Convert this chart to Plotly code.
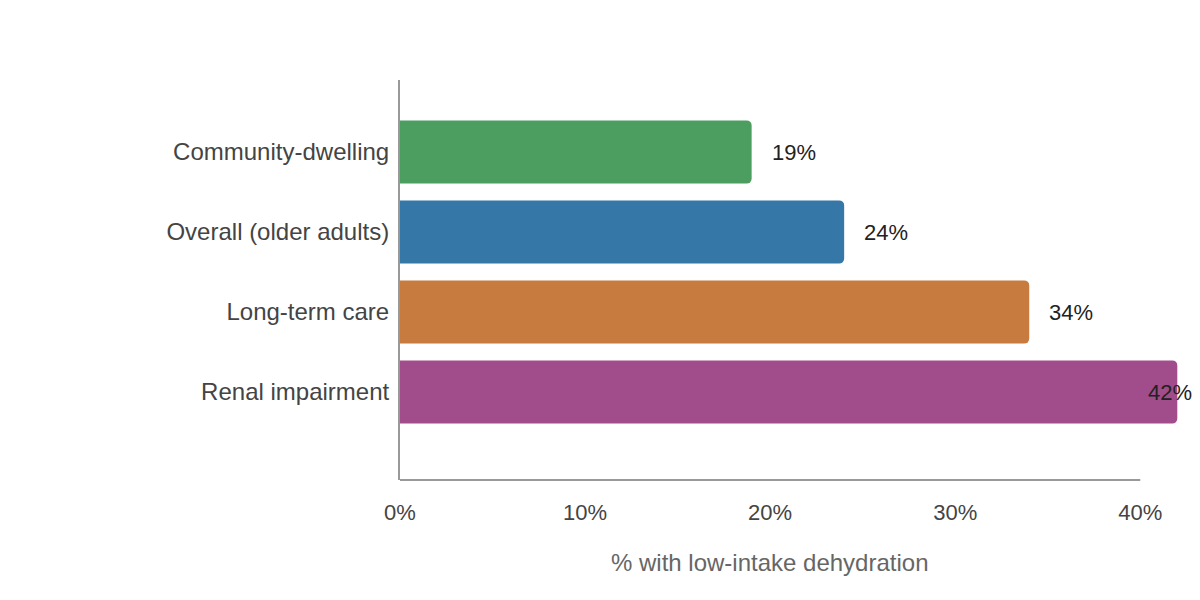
import plotly.graph_objects as go

# prevalence of low-intake dehydration by group
groups = ["Community-dwelling", "Overall (older adults)", "Long-term care", "Renal impairment"]
values = [19, 24, 34, 42]
colors = ["#4b9e5f", "#3577a6", "#c87b3e", "#a14c8b"]
tick_vals = [0, 10, 20, 30, 40]
tick_text = ["0%", "10%", "20%", "30%", "40%"]
x_title = "% with low-intake dehydration"

FONT = "Liberation Sans, Arial, Helvetica, sans-serif"
AXIS_COLOR = "#999999"

fig = go.Figure(go.Bar(
    x=values,
    y=groups,
    orientation="h",
    width=0.79,
    marker=dict(color=colors, cornerradius=5, line=dict(width=0)),
    hoverinfo="skip",
))

# value labels just right of each bar; pulled back in when they would run off the edge
for g, v in zip(groups, values):
    if v > tick_vals[-1]:
        fig.add_annotation(x=1, xref="paper", y=g, yref="y", text=f"{v}%",
                           xanchor="right", xshift=13, showarrow=False,
                           font=dict(family=FONT, size=22, color="#222222"))
    else:
        fig.add_annotation(x=v, xref="x", y=g, yref="y", text=f"{v}%",
                           xanchor="left", xshift=18, showarrow=False,
                           font=dict(family=FONT, size=22, color="#222222"))

# x axis line and title span 0-40%, not the whole plot area
fig.add_shape(type="line", xref="x", yref="paper", x0=0, x1=tick_vals[-1], y0=0, y1=0,
              line=dict(color=AXIS_COLOR, width=2))
fig.add_annotation(x=tick_vals[-1] / 2, xref="x", y=0, yref="paper", text=x_title,
                   xanchor="center", yanchor="middle", yshift=-82, showarrow=False,
                   font=dict(family=FONT, size=24, color="#666666"))

# page body adds an 8px margin, so the figure is kept inside the window
fig.update_layout(
    width=1192, height=584,
    margin=dict(l=392, r=19, t=72, b=112),
    paper_bgcolor="white", plot_bgcolor="white",
    showlegend=False,
    font=dict(family=FONT),
)
fig.update_xaxes(
    range=[0, 42.2],
    tickvals=tick_vals, ticktext=tick_text,
    showgrid=False, zeroline=False, showline=False,
    ticks="outside", ticklen=13, tickcolor="rgba(0,0,0,0)",
    tickfont=dict(family=FONT, size=22, color="#444444"),
)
fig.update_yaxes(
    range=[4.1, -0.9],
    showgrid=False, zeroline=False,
    showline=True, linecolor=AXIS_COLOR, linewidth=2,
    ticks="outside", ticklen=4, tickcolor="rgba(0,0,0,0)",
    tickfont=dict(family=FONT, size=24, color="#444444"),
)

fig.write_html("out.html")
